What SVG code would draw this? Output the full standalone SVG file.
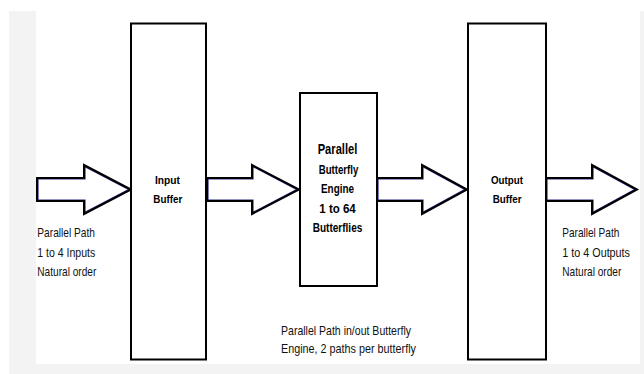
<svg xmlns="http://www.w3.org/2000/svg" xmlns:xlink="http://www.w3.org/1999/xlink" width="644" height="374" viewBox="0 0 644 374">
  <style>
    .box { fill: #ffffff; stroke: #000000; stroke-width: 2; }
    .arrow-fill { fill: #ffffff; stroke: #2a2a86; stroke-width: 3.2; }
    .arrow-line { fill: none; stroke: #000000; stroke-width: 2; stroke-linejoin: miter; }
    .bold { font-family: "Liberation Sans", Arial, sans-serif; font-weight: bold; fill: #000000; }
    .reg { font-family: "Liberation Sans", Arial, sans-serif; font-size: 13px; fill: #111111; }
  </style>
  <defs>
    <polygon id="a1" points="37,178 84,178 84,165 131,189.5 84,214 84,201 37,201"/>
    <polygon id="a2" points="207,178 252,178 252,165 299,189.5 252,214 252,201 207,201"/>
    <polygon id="a3" points="377,178 422,178 422,165 467,189.5 422,214 422,201 377,201"/>
    <polygon id="a4" points="546,178 592,178 592,165 637,189.5 592,214 592,201 546,201"/>
    <clipPath id="c1"><use xlink:href="#a1"/></clipPath>
    <clipPath id="c2"><use xlink:href="#a2"/></clipPath>
    <clipPath id="c3"><use xlink:href="#a3"/></clipPath>
    <clipPath id="c4"><use xlink:href="#a4"/></clipPath>
  </defs>

  <!-- background -->
  <rect x="9" y="11" width="635" height="363" fill="#f3f3f3"/>
  <rect x="36" y="0" width="604" height="364" fill="#ffffff"/>

  <g id="connectors">
    <use xlink:href="#a1" class="arrow-fill" clip-path="url(#c1)"/>
    <use xlink:href="#a1" class="arrow-line"/>
    <use xlink:href="#a2" class="arrow-fill" clip-path="url(#c2)"/>
    <use xlink:href="#a2" class="arrow-line"/>
    <use xlink:href="#a3" class="arrow-fill" clip-path="url(#c3)"/>
    <use xlink:href="#a3" class="arrow-line"/>
    <use xlink:href="#a4" class="arrow-fill" clip-path="url(#c4)"/>
    <use xlink:href="#a4" class="arrow-line"/>
  </g>

  <g id="input-buffer">
    <rect class="box" x="131" y="23.5" width="75" height="336"/>
    <text class="bold" font-size="11.5" x="155" y="183.5" textLength="25" lengthAdjust="spacingAndGlyphs">Input</text>
    <text class="bold" font-size="11.5" x="153.3" y="203.3" textLength="29" lengthAdjust="spacingAndGlyphs">Buffer</text>
  </g>

  <g id="butterfly-engine">
    <rect class="box" x="300" y="93" width="77" height="193"/>
    <text class="bold" font-size="14" x="317.7" y="154" textLength="39.6" lengthAdjust="spacingAndGlyphs">Parallel</text>
    <text class="bold" font-size="13" x="318.7" y="174" textLength="39.6" lengthAdjust="spacingAndGlyphs">Butterfly</text>
    <text class="bold" font-size="12" x="321" y="192.7" textLength="33" lengthAdjust="spacingAndGlyphs">Engine</text>
    <text class="bold" font-size="13" x="319.3" y="212.7" textLength="36.4" lengthAdjust="spacingAndGlyphs">1 to 64</text>
    <text class="bold" font-size="13" x="312.7" y="232" textLength="49.6" lengthAdjust="spacingAndGlyphs">Butterflies</text>
  </g>

  <g id="output-buffer">
    <rect class="box" x="468" y="23.5" width="78" height="336"/>
    <text class="bold" font-size="11.5" x="491" y="183.5" textLength="32" lengthAdjust="spacingAndGlyphs">Output</text>
    <text class="bold" font-size="11.5" x="492.7" y="203.3" textLength="29" lengthAdjust="spacingAndGlyphs">Buffer</text>
  </g>

  <g id="input-label">
    <text class="reg" x="37.3" y="237.3" textLength="57.7" lengthAdjust="spacingAndGlyphs">Parallel Path</text>
    <text class="reg" x="37.3" y="256.7" textLength="58" lengthAdjust="spacingAndGlyphs">1 to 4 Inputs</text>
    <text class="reg" x="37.3" y="276" textLength="59" lengthAdjust="spacingAndGlyphs">Natural order</text>
  </g>

  <g id="output-label">
    <text class="reg" x="562.3" y="237.3" textLength="57" lengthAdjust="spacingAndGlyphs">Parallel Path</text>
    <text class="reg" x="562.3" y="256.7" textLength="67.7" lengthAdjust="spacingAndGlyphs">1 to 4 Outputs</text>
    <text class="reg" x="562.3" y="276" textLength="59" lengthAdjust="spacingAndGlyphs">Natural order</text>
  </g>

  <g id="engine-note">
    <text class="reg" x="281" y="335" textLength="130" lengthAdjust="spacingAndGlyphs">Parallel Path in/out Butterfly</text>
    <text class="reg" x="281" y="353.3" textLength="135" lengthAdjust="spacingAndGlyphs">Engine, 2 paths per butterfly</text>
  </g>
</svg>
